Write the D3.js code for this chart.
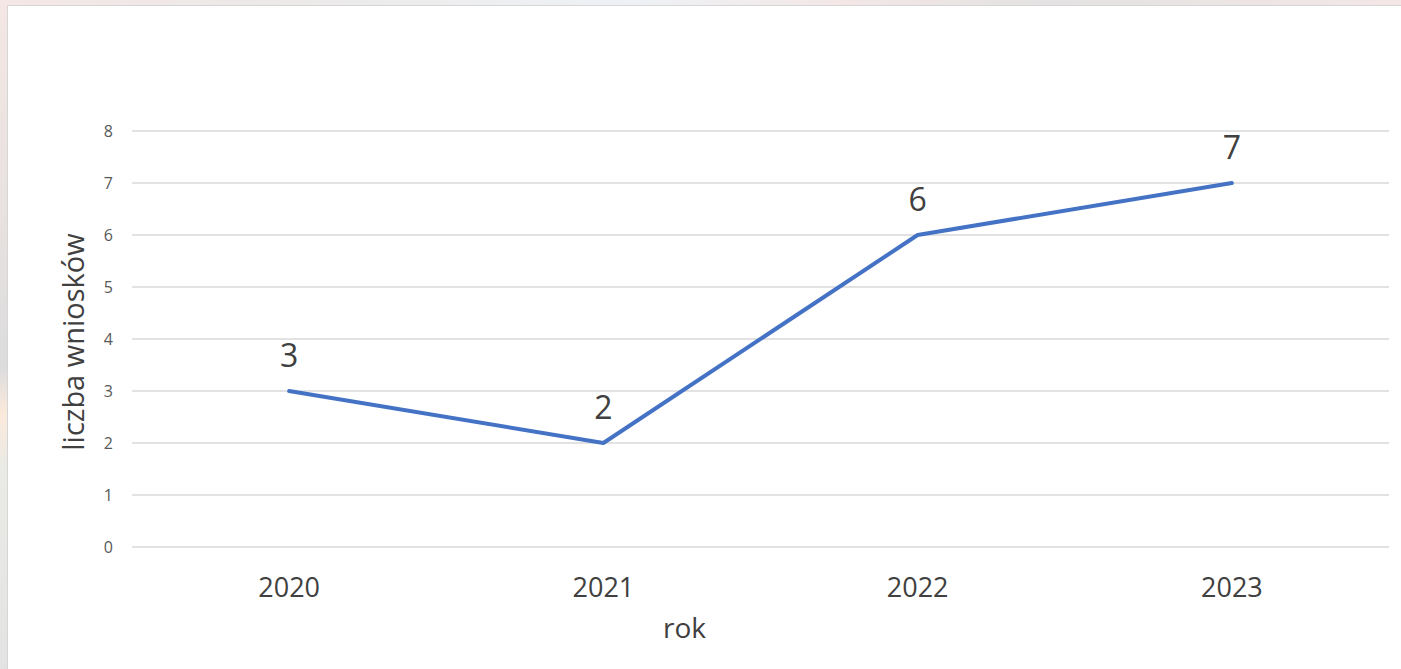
<!DOCTYPE html>
<html>
<head>
<meta charset="utf-8">
<script src="https://cdn.jsdelivr.net/npm/d3@7"></script>
<style>
    html, body { margin: 0; padding: 0; }
    body {
        width: 1401px; height: 669px; overflow: hidden;
        background: linear-gradient(90deg, #f4e7e5 0%, #ece9e8 20%, #eef2f6 45%, #f3e7e6 60%, #e4e2e2 75%, #f3e7e6 100%);
    }
    #left-strip {
        position: absolute; left: 0; top: 0; width: 8px; height: 669px;
        background: linear-gradient(180deg, #f4e7e5 0%, #e6e1df 35%, #dcdcdd 55%, #fbeadb 62%, #eaeae6 70%, #e3e3e3 100%);
    }
    #chart {
        position: absolute; left: 7px; top: 5px;
        width: 1394px; height: 664px; background: #fff;
        border-top: 1px solid #d6d6d6; border-left: 1px solid #d6d6d6;
        box-sizing: border-box;
    }
    text { font-family: "Open Sans", sans-serif; }
</style>
</head>
<body>
<div id="left-strip"></div>
<div id="chart"></div>
<script>
// Chart data
const years = ['2020', '2021', '2022', '2023'];
const applications = [3, 2, 6, 7];
const yTicks = [0, 1, 2, 3, 4, 5, 6, 7, 8];

const width = 1394, height = 664;
// plot area relative to #chart (chart sits at 7,5 on the page)
const margin = {top: 126, right: 12, bottom: 122, left: 125};
const innerW = width - margin.left - margin.right;
const innerH = height - margin.top - margin.bottom;

const svg = d3.select('#chart')
    .append('svg')
    .attr('width', width)
    .attr('height', height)
    .style('position', 'absolute')
    .style('left', '-1px')
    .style('top', '-1px');

const g = svg.append('g')
    .attr('transform', `translate(${margin.left},${margin.top})`);

const x = d3.scaleBand()
    .domain(years)
    .range([0, innerW]);

const y = d3.scaleLinear()
    .domain([0, 8])
    .range([innerH, 0]);

// Gridlines
g.append('g')
    .selectAll('line')
    .data(yTicks)
    .enter()
    .append('line')
    .attr('x1', 0)
    .attr('x2', innerW)
    .attr('y1', d => y(d))
    .attr('y2', d => y(d))
    .attr('stroke', '#d9d9d9')
    .attr('stroke-width', 1.3);

// Y axis labels
const yAxis = g.append('g')
    .call(d3.axisLeft(y).tickValues(yTicks).tickSize(0).tickPadding(19).tickFormat(d3.format('d')));
yAxis.select('.domain').remove();
yAxis.selectAll('text')
    .attr('fill', '#595959')
    .style('font-size', '16px');

// X axis labels
const xAxis = g.append('g')
    .attr('transform', `translate(0,${innerH})`)
    .call(d3.axisBottom(x).tickSize(0).tickPadding(0));
xAxis.select('.domain').remove();
xAxis.selectAll('text')
    .attr('dy', null)
    .attr('y', 50)
    .attr('fill', '#404040')
    .style('font-size', '27px');

// Axis titles
g.append('text')
    .attr('x', innerW / 2 - 76)
    .attr('y', innerH + 91)
    .attr('text-anchor', 'middle')
    .attr('fill', '#404040')
    .style('font-size', '28px')
    .text('rok');

g.append('text')
    .attr('transform', `translate(-48,${innerH / 2 + 3}) rotate(-90)`)
    .attr('text-anchor', 'middle')
    .attr('fill', '#404040')
    .style('font-size', '29px')
    .text('liczba wniosków');

// Line
const line = d3.line()
    .x((d, i) => x(years[i]) + x.bandwidth() / 2)
    .y(d => y(d));

g.append('path')
    .datum(applications)
    .attr('d', line)
    .attr('fill', 'none')
    .attr('stroke', '#4472c4')
    .attr('stroke-width', 4)
    .attr('stroke-linejoin', 'round')
    .attr('stroke-linecap', 'round');

// Data labels
g.append('g')
    .selectAll('text')
    .data(applications)
    .enter()
    .append('text')
    .attr('x', (d, i) => x(years[i]) + x.bandwidth() / 2)
    .attr('y', d => y(d) - 24)
    .attr('text-anchor', 'middle')
    .attr('fill', '#404040')
    .style('font-size', '32px')
    .text(d => d);
</script>
</body>
</html>
